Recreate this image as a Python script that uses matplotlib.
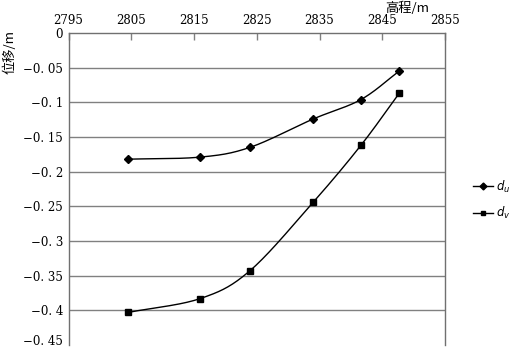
import numpy as np
import matplotlib.pyplot as plt
from matplotlib.lines import Line2D

# elevation (m) and displacement (m)
elev = [2804.5, 2816.0, 2823.9, 2834.0, 2841.6, 2847.7]
d_u = [-0.182, -0.179, -0.165, -0.124, -0.096, -0.055]
d_v = [-0.403, -0.383, -0.343, -0.244, -0.162, -0.087]

xticks = [2795, 2805, 2815, 2825, 2835, 2845, 2855]
yticks = [0, -0.05, -0.1, -0.15, -0.2, -0.25, -0.3, -0.35, -0.4, -0.45]
ylabels = ["0", "\u22120. 05", "\u22120. 1", "\u22120. 15", "\u22120. 2", "\u22120. 25",
           "\u22120. 3", "\u22120. 35", "\u22120. 4", "\u22120. 45"]


def smooth(x, y, n=30):
    # catmull-rom curve through the points, like excel's smoothed line
    p = np.column_stack([x, y])
    p = np.vstack([2 * p[0] - p[1], p, 2 * p[-1] - p[-2]])
    t = np.linspace(0, 1, n)[:, None]
    out = []
    for i in range(1, len(p) - 2):
        p0, p1, p2, p3 = p[i - 1], p[i], p[i + 1], p[i + 2]
        c = 0.5 * ((2 * p1) + (-p0 + p2) * t + (2 * p0 - 5 * p1 + 4 * p2 - p3) * t ** 2
                   + (-p0 + 3 * p1 - 3 * p2 + p3) * t ** 3)
        out.append(c)
    c = np.vstack(out)
    return c[:, 0], c[:, 1]


plt.rcParams['font.family'] = ['DejaVu Serif']
fig = plt.figure(figsize=(5.11, 3.51), dpi=100)
ax = fig.add_axes([68.5 / 511, 1 - 345 / 351, (445 - 68.5) / 511, (345 - 33) / 351])

for y in yticks[1:-1]:
    ax.axhline(y, color='#808080', lw=1, zorder=1)

sx, sy = smooth(elev, d_u)
ax.plot(sx, sy, color='black', lw=1, zorder=2)
ax.plot(elev, d_u, 'D', color='black', ms=4.5, zorder=3)
sx, sy = smooth(elev, d_v)
ax.plot(sx, sy, color='black', lw=1, zorder=2)
ax.plot(elev, d_v, 's', color='black', ms=4.5, zorder=3)

ax.set_xlim(2795, 2855)
ax.set_ylim(-0.45, 0)
ax.xaxis.tick_top()
ax.set_xticks(xticks)
ax.set_xticklabels([str(v) for v in xticks], fontsize=8.5)
ax.tick_params(axis='x', direction='in', length=5, width=1, color='#808080', pad=4)
ax.set_yticks(yticks)
ax.set_yticklabels(ylabels, fontsize=8.5)
ax.tick_params(axis='y', length=0, pad=4)
# last label sits on the lower edge, keep it inside the picture
ax.get_yticklabels()[-1].set_va('baseline')
ax.spines['bottom'].set_visible(False)
for s in ['top', 'left', 'right']:
    ax.spines[s].set_color('#707070')
    ax.spines[s].set_linewidth(1)

fig.text(10 / 511, 1 - 52 / 351, "位移/m", rotation=90, ha='center', va='center',
         fontsize=9.5, family=['Noto Sans CJK SC', 'DejaVu Sans'])
fig.text(407 / 511, 1 - 8 / 351, "高程/m", ha='center', va='center',
         fontsize=9.5, family=['Noto Sans CJK SC', 'DejaVu Sans'])

handles = [Line2D([], [], color='black', lw=1, marker='D', ms=3.5),
           Line2D([], [], color='black', lw=1, marker='s', ms=3.5)]
fig.legend(handles, ['$d_u$', '$d_v$'], loc='center left',
           bbox_to_anchor=(462 / 511, 1 - 200 / 351), frameon=False,
           fontsize=8.5, handlelength=1.7, handletextpad=0.3, labelspacing=0.9)

fig.savefig('out.png', dpi=100)
